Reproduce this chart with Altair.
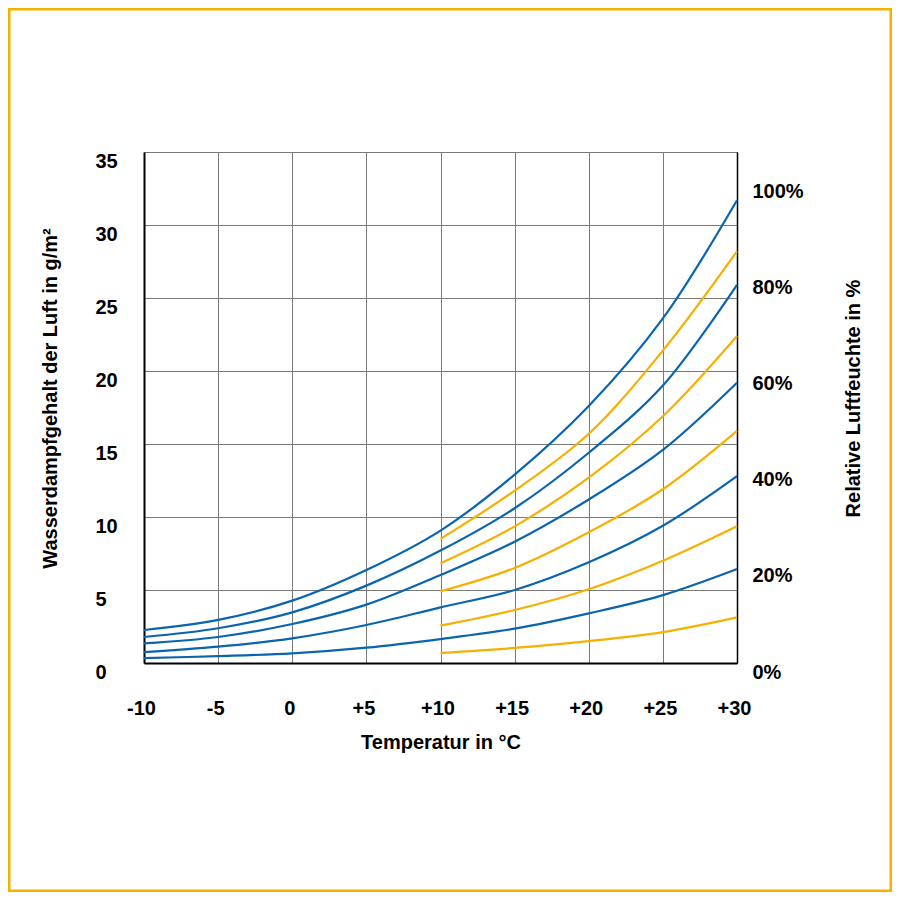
import altair as alt
import pandas as pd

# ---- data ----
temps_full = [-10, -5, 0, 5, 10, 15, 20, 25, 30]
temps_warm = [10, 15, 20, 25, 30]

rh100 = [2.26, 2.95, 4.27, 6.37, 9.07, 12.9, 17.6, 23.6, 31.7]
rh80 = [1.78, 2.38, 3.47, 5.30, 7.70, 10.6, 14.4, 19.0, 25.9]
rh60 = [1.34, 1.78, 2.67, 4.00, 6.03, 8.31, 11.2, 14.6, 19.2]
rh40 = [0.75, 1.12, 1.69, 2.60, 3.81, 5.00, 6.90, 9.40, 12.8]
rh20 = [0.34, 0.47, 0.66, 1.05, 1.64, 2.35, 3.40, 4.65, 6.44]

rh90 = [8.50, 11.8, 15.7, 21.4, 28.2]
rh70 = [6.83, 9.36, 12.7, 16.9, 22.4]
rh50 = [4.91, 6.51, 8.95, 11.9, 15.9]
rh30 = [2.56, 3.63, 5.05, 7.00, 9.36]
rh10 = [0.69, 1.03, 1.50, 2.12, 3.13]

blue_series = {"100%": rh100, "80%": rh80, "60%": rh60, "40%": rh40, "20%": rh20}
orange_series = {"90%": rh90, "70%": rh70, "50%": rh50, "30%": rh30, "10%": rh10}

x_ticks = [-10, -5, 0, 5, 10, 15, 20, 25, 30]
y_ticks = [0, 5, 10, 15, 20, 25, 30, 35]
pct_ticks = [0, 20, 40, 60, 80, 100]

rows = []
for name, vals in blue_series.items():
    for t, v in zip(temps_full, vals):
        rows.append({"series": name, "group": "blue", "t": t, "v": v})
for name, vals in orange_series.items():
    for t, v in zip(temps_warm, vals):
        rows.append({"series": name, "group": "orange", "t": t, "v": v})
df = pd.DataFrame(rows)
pct_df = pd.DataFrame({"pct": pct_ticks})
one_df = pd.DataFrame({"a": [0]})

BLUE = "#0a64b0"
ORANGE = "#f7b000"
GRID = "#7a7a7a"
FONT = "Liberation Sans, Arial, sans-serif"
FS = 20

lines = alt.Chart(df).mark_line(strokeWidth=2.2, interpolate="catmull-rom").encode(
    x=alt.X(
        "t:Q",
        scale=alt.Scale(domain=[-10, 30], nice=False, zero=False),
        axis=alt.Axis(
            values=x_ticks,
            labelExpr="datum.value > 0 ? '+' + datum.value : '' + datum.value",
            title="Temperatur in °C",
            titleY=79,
            titleBaseline="middle",
            grid=True, gridColor=GRID, gridWidth=1,
            domainColor="black", domainWidth=2,
            ticks=False,
            labelFlush=False, labelOverlap=False,
            labelPadding=45, labelBaseline="middle", labelOffset=-3,
        ),
    ),
    y=alt.Y(
        "v:Q",
        scale=alt.Scale(domain=[0, 35], nice=False, zero=False),
        axis=alt.Axis(
            values=y_ticks,
            title="Wasserdampfgehalt der Luft in g/m²",
            titleAngle=270, titleX=-94, titleY=246,
            titleBaseline="middle", titleAlign="center",
            grid=True, gridColor=GRID, gridWidth=1,
            domainColor="black", domainWidth=2,
            ticks=False,
            labelFlush=False, labelOverlap=False,
            labelPadding=49, labelAlign="left", labelBaseline="middle", labelOffset=9,
        ),
    ),
    color=alt.Color("group:N", scale=alt.Scale(domain=["blue", "orange"], range=[BLUE, ORANGE]), legend=None),
    detail="series:N",
)

right = alt.Chart(pct_df).mark_point(opacity=0).encode(
    y=alt.Y(
        "pct:Q",
        scale=alt.Scale(domain=[0, 106.4], nice=False, zero=False),
        axis=alt.Axis(
            orient="right",
            values=pct_ticks,
            labelExpr="datum.value + '%'",
            title="Relative Luftfeuchte in %",
            titleAngle=270, titleX=116, titleY=246,
            titleBaseline="middle", titleAlign="center",
            grid=False, ticks=False,
            domainColor="black", domainWidth=1.5,
            labelFlush=False, labelOverlap=False,
            labelPadding=15, labelBaseline="middle", labelOffset=9,
        ),
    ),
)

border = alt.Chart(one_df).mark_rect(fillOpacity=0, fill="white", stroke=ORANGE, strokeWidth=3).encode(
    x=alt.value(-135), x2=alt.value(747), y=alt.value(-143), y2=alt.value(739)
)

chart = alt.layer(border, lines, right).resolve_scale(y="independent").properties(
    width=593,
    height=511,
    autosize=alt.AutoSizeParams(type="none"),
    padding={"left": 136, "top": 144, "right": 155, "bottom": 229},
    background="white",
).configure_view(
    stroke=GRID, strokeWidth=1
).configure_axis(
    labelFont=FONT, labelFontSize=FS, labelFontWeight="bold", labelColor="black",
    titleFont=FONT, titleFontSize=FS, titleFontWeight="bold", titleColor="black",
)

chart.save("out.html", embed_options={"renderer": "svg", "actions": False})
